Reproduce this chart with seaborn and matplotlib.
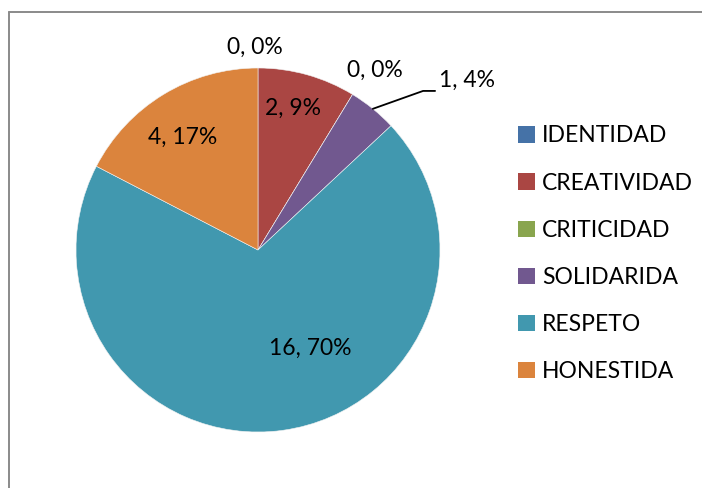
import numpy as np
import matplotlib
matplotlib.use("Agg")
import matplotlib.pyplot as plt
from matplotlib.lines import Line2D
import seaborn as sns

categories = ["IDENTIDAD", "CREATIVIDAD", "CRITICIDAD", "SOLIDARIDA", "RESPETO", "HONESTIDA"]
values = [0, 2, 0, 1, 16, 4]
percent_labels = ["0%", "9%", "0%", "4%", "70%", "17%"]
colors = ["#4572A7", "#AA4643", "#89A54E", "#71588F", "#4198AF", "#DB843D"]

sns.set_theme(style="white")
plt.rcParams["font.family"] = ["Lato", "DejaVu Sans"]
FS = 16.5

W, H = 702, 488
fig = plt.figure(figsize=(W / 100, H / 100), dpi=100)
fig.patch.set_facecolor("white")

# pie geometry in pixels: centre (258, 250), radius 182
R = 182.0
cx, cy = 258.0, 250.0
half = 1.5 * R
ax = fig.add_axes([(cx - half) / W, (H - cy - half) / H, 2 * half / W, 2 * half / H])

wedges, _ = ax.pie(values, colors=colors, startangle=90, counterclock=False,
                   radius=1.0, wedgeprops=dict(linewidth=0.4, edgecolor="#f2f2f2"))
ax.set_xlim(-1.5, 1.5)
ax.set_ylim(-1.5, 1.5)
ax.set_aspect("equal")
ax.axis("off")

# label offsets (layout, data units relative to the pie centre)
label_pos = {
    "IDENTIDAD": (-0.016, 1.115),
    "CREATIVIDAD": (0.19, 0.78),
    "CRITICIDAD": (0.643, 0.985),
    "RESPETO": (0.286, -0.538),
    "HONESTIDA": (-0.412, 0.62),
}
for cat, v, p, w in zip(categories, values, percent_labels, wedges):
    txt = f"{v}, {p}"
    if cat == "SOLIDARIDA":
        mid = np.deg2rad((w.theta1 + w.theta2) / 2)
        x0, y0 = np.cos(mid), np.sin(mid)
        ax.add_line(Line2D([x0, 0.907, 0.973], [y0, 0.874, 0.874],
                           color="black", lw=1.3, clip_on=False))
        ax.text(0.995, 0.93, txt, ha="left", va="center", fontsize=FS, color="black")
    else:
        x, y = label_pos[cat]
        ax.text(x, y, txt, ha="center", va="center", fontsize=FS, color="black")

# legend
handles = [matplotlib.patches.Patch(facecolor=c, edgecolor="none") for c in colors]
leg = fig.legend(handles, categories, loc="upper left",
                 bbox_to_anchor=(507 / W, 1 - 114 / H), frameon=False,
                 fontsize=FS, handlelength=0.72, handleheight=0.72,
                 handletextpad=0.3, labelspacing=1.14, borderpad=0)
for t in leg.get_texts():
    t.set_color("black")

# chart frame (left and top edges visible)
fig.add_artist(Line2D([9 / W, 9 / W], [0, 1 - 12 / H], color="#8a8a8a", lw=1.4,
                      transform=fig.transFigure))
fig.add_artist(Line2D([9 / W, 1], [1 - 12 / H, 1 - 12 / H], color="#8a8a8a", lw=1.4,
                      transform=fig.transFigure))

fig.savefig("out.png", dpi=100, facecolor="white")
